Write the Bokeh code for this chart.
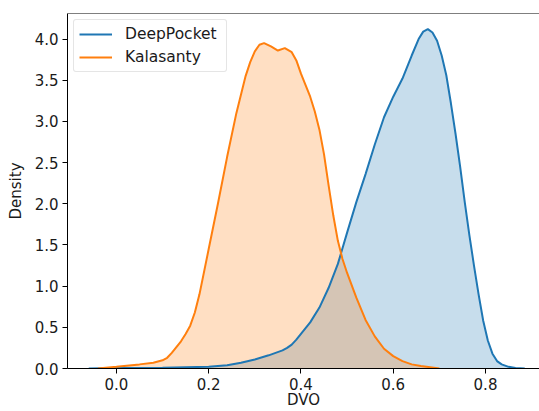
from bokeh.plotting import figure
from bokeh.models import Range1d, FixedTicker, Legend, LegendItem, Span
from bokeh.embed import file_html
from bokeh.resources import INLINE

# DeepPocket density
deep_x = [-0.06, 0.00, 0.10, 0.20, 0.24, 0.27, 0.30, 0.33, 0.36, 0.37, 0.38,
          0.39, 0.40, 0.42, 0.44, 0.46, 0.48, 0.50, 0.52, 0.54, 0.56, 0.58,
          0.60, 0.62, 0.64, 0.655, 0.665, 0.675, 0.685, 0.695, 0.705, 0.715,
          0.725, 0.735, 0.745, 0.755, 0.765, 0.775, 0.785, 0.795, 0.805,
          0.815, 0.825, 0.835, 0.85, 0.865, 0.885]
deep_y = [0.00, 0.005, 0.01, 0.02, 0.04, 0.07, 0.11, 0.16, 0.22, 0.25, 0.29,
          0.35, 0.42, 0.56, 0.74, 0.98, 1.27, 1.65, 2.02, 2.36, 2.72, 3.05,
          3.30, 3.52, 3.80, 4.00, 4.09, 4.12, 4.08, 3.98, 3.80, 3.56,
          3.22, 2.85, 2.45, 2.02, 1.62, 1.25, 0.90, 0.58, 0.34,
          0.18, 0.09, 0.05, 0.02, 0.005, 0.00]

# Kalasanty density
kala_x = [-0.04, 0.00, 0.05, 0.08, 0.10, 0.11, 0.12, 0.13, 0.14, 0.15, 0.16,
          0.17, 0.18, 0.20, 0.22, 0.24, 0.26, 0.28, 0.29, 0.30, 0.31, 0.32,
          0.335, 0.35, 0.365, 0.38, 0.39, 0.40, 0.41, 0.42, 0.43, 0.44, 0.45,
          0.46, 0.47, 0.48, 0.49, 0.50, 0.52, 0.54, 0.56, 0.58, 0.60, 0.62,
          0.64, 0.66, 0.70]
kala_y = [0.00, 0.02, 0.05, 0.07, 0.10, 0.13, 0.19, 0.26, 0.33, 0.42, 0.52,
          0.68, 0.90, 1.45, 2.00, 2.57, 3.10, 3.55, 3.72, 3.85, 3.93, 3.95,
          3.91, 3.86, 3.89, 3.84, 3.74, 3.58, 3.44, 3.30, 3.12, 2.90, 2.60,
          2.22, 1.86, 1.55, 1.33, 1.16, 0.86, 0.59, 0.39, 0.24, 0.15, 0.09,
          0.05, 0.03, 0.00]

series_names = ["DeepPocket", "Kalasanty"]
x_ticks = [0.0, 0.2, 0.4, 0.6, 0.8]
x_tick_labels = ["0.0", "0.2", "0.4", "0.6", "0.8"]
y_ticks = [0.0, 0.5, 1.0, 1.5, 2.0, 2.5, 3.0, 3.5, 4.0]
y_tick_labels = ["0.0", "0.5", "1.0", "1.5", "2.0", "2.5", "3.0", "3.5", "4.0"]

BLUE = "#1f77b4"
ORANGE = "#ff7f0e"
FONT = "DejaVu Sans"
FS = "15px"
TXT = "#1a1a1a"

y_top = 4.31
p = figure(width=539, height=411, output_backend="svg", toolbar_location=None,
           x_range=Range1d(-0.106, 0.917), y_range=Range1d(0, y_top),
           min_border_left=67, min_border_right=0, min_border_top=13,
           min_border_bottom=41)
p.outline_line_color = None
p.grid.visible = False
p.background_fill_color = "white"
p.border_fill_color = "white"

p.varea(x=deep_x, y1=0, y2=deep_y, fill_color=BLUE, fill_alpha=0.25)
p.varea(x=kala_x, y1=0, y2=kala_y, fill_color=ORANGE, fill_alpha=0.25)
r1 = p.line(deep_x, deep_y, line_color=BLUE, line_width=2)
r2 = p.line(kala_x, kala_y, line_color=ORANGE, line_width=2)

top = Span(location=y_top, dimension="width", line_color="black", line_width=1)
p.add_layout(top)

for ax in (p.xaxis[0], p.yaxis[0]):
    ax.axis_line_color = "black"
    ax.axis_line_width = 1
    ax.major_tick_line_color = "black"
    ax.major_tick_out = 5
    ax.major_tick_in = 0
    ax.minor_tick_line_color = None
    ax.major_label_text_font = FONT
    ax.major_label_text_font_size = FS
    ax.major_label_text_color = TXT
    ax.major_label_standoff = 4
    ax.axis_label_text_font = FONT
    ax.axis_label_text_font_size = FS
    ax.axis_label_text_font_style = "normal"
    ax.axis_label_text_color = TXT

p.xaxis.ticker = FixedTicker(ticks=x_ticks)
p.xaxis.major_label_overrides = dict(zip(x_ticks, x_tick_labels))
p.yaxis.ticker = FixedTicker(ticks=y_ticks)
p.yaxis.major_label_overrides = dict(zip(y_ticks, y_tick_labels))
p.xaxis.axis_label = "DVO"
p.yaxis.axis_label = "Density"
p.xaxis.axis_label_standoff = -2
p.yaxis.axis_label_standoff = 7

legend = Legend(items=[LegendItem(label=series_names[0], renderers=[r1]),
                       LegendItem(label=series_names[1], renderers=[r2])],
                location="top_left")
legend.margin = 6
legend.padding = 5
legend.spacing = 5
legend.glyph_width = 33
legend.glyph_height = 18
legend.label_height = 18
legend.label_width = 96
legend.label_standoff = 13
legend.label_text_font = FONT
legend.label_text_font_size = "15.5px"
legend.label_text_color = TXT
legend.border_line_color = "#cccccc"
legend.border_line_width = 1
legend.background_fill_alpha = 0.8
legend.border_radius = 3
p.add_layout(legend)

open("out.html", "w").write(file_html(p, INLINE))
